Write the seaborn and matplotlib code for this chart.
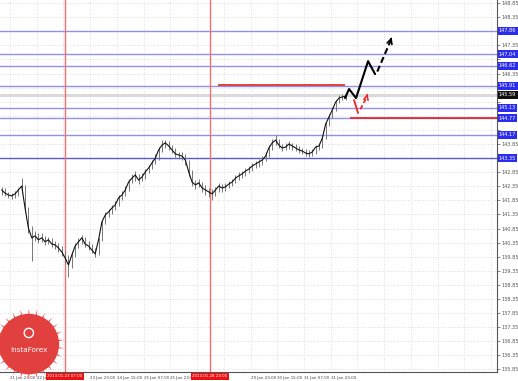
import matplotlib
matplotlib.use("Agg")
import matplotlib.pyplot as plt
import matplotlib.transforms as mtransforms
import seaborn as sns
import numpy as np
import pandas as pd

# ---------------- data ----------------
bar_hours = [2 * i + 1 for i in range(104)]
closes = [142.22, 142.11, 142.04, 142.01, 142.08, 142.22, 142.36, 141.58, 140.87, 140.52,
          140.59, 140.45, 140.52, 140.38, 140.45, 140.30, 140.27, 140.16, 140.02, 139.81,
          139.56, 139.91, 140.23, 140.38, 140.52, 140.30, 140.23, 140.09, 139.95, 140.45,
          141.08, 141.33, 141.44, 141.58, 141.69, 141.94, 142.04, 142.22, 142.50, 142.64,
          142.75, 142.57, 142.68, 142.86, 143.00, 143.18, 143.35, 143.64, 143.81, 143.89,
          143.78, 143.64, 143.50, 143.46, 143.42, 143.28, 142.86, 142.50, 142.40, 142.47,
          142.29, 142.22, 142.15, 142.08, 142.22, 142.36, 142.29, 142.33, 142.43, 142.50,
          142.64, 142.72, 142.79, 142.89, 142.96, 143.07, 143.14, 143.21, 143.28, 143.42,
          143.71, 143.89, 143.99, 143.81, 143.71, 143.74, 143.85, 143.78, 143.71, 143.64,
          143.60, 143.53, 143.50, 143.57, 143.74, 143.78, 144.06, 144.56, 144.81, 145.06,
          145.34, 145.48, 145.52, 145.55]
highs = [142.34, 142.28, 142.16, 142.12, 142.20, 142.30, 142.64, 142.40, 141.62, 140.95,
         140.75, 140.68, 140.70, 140.58, 140.55, 140.50, 140.40, 140.34, 140.22, 140.05,
         139.90, 140.02, 140.35, 140.50, 140.62, 140.55, 140.40, 140.30, 140.15, 140.52,
         141.15, 141.45, 141.55, 141.70, 141.82, 142.05, 142.18, 142.35, 142.62, 142.78,
         142.88, 142.78, 142.82, 142.98, 143.12, 143.30, 143.48, 143.75, 143.99, 143.98,
         143.95, 143.82, 143.70, 143.58, 143.55, 143.48, 143.30, 142.92, 142.58, 142.60,
         142.50, 142.38, 142.30, 142.25, 142.32, 142.45, 142.42, 142.45, 142.55, 142.62,
         142.75, 142.85, 142.90, 143.00, 143.08, 143.18, 143.26, 143.32, 143.42, 143.55,
         143.82, 144.02, 144.17, 144.02, 143.85, 143.88, 143.95, 143.90, 143.84, 143.78,
         143.72, 143.66, 143.62, 143.68, 143.80, 143.88, 144.15, 144.62, 144.90, 145.15,
         145.42, 145.60, 145.64, 145.66]
lows = [142.05, 142.02, 141.92, 141.90, 141.95, 142.02, 142.10, 141.45, 140.70, 139.70,
        140.40, 140.32, 140.36, 140.25, 140.30, 140.18, 140.12, 140.02, 139.88, 139.60,
        139.12, 139.45, 139.85, 140.15, 140.30, 140.18, 140.10, 139.98, 139.85, 139.92,
        140.40, 141.00, 141.25, 141.38, 141.50, 141.65, 141.85, 142.00, 142.18, 142.45,
        142.55, 142.42, 142.52, 142.62, 142.82, 142.98, 143.15, 143.30, 143.58, 143.70,
        143.62, 143.52, 143.38, 143.32, 143.30, 143.10, 142.70, 142.35, 142.25, 142.32,
        142.15, 142.05, 141.98, 141.87, 142.00, 142.15, 142.15, 142.18, 142.28, 142.35,
        142.45, 142.58, 142.65, 142.72, 142.82, 142.90, 143.00, 143.05, 143.12, 143.25,
        143.38, 143.65, 143.80, 143.70, 143.60, 143.62, 143.68, 143.65, 143.60, 143.52,
        143.48, 143.42, 143.40, 143.44, 143.50, 143.62, 143.72, 144.02, 144.50, 144.78,
        145.02, 145.30, 145.40, 145.42]

# support / resistance levels (blue) and their labels
level_prices = [147.86, 147.04, 146.62, 145.91, 145.13, 144.77, 144.17, 143.35]
current_price = 145.59

# red drawn lines
red_upper = {"start": 130.5, "end": 206.6, "price": 145.95}
red_lower = {"start": 209.6, "end": 300.0, "price": 144.79}
red_vlines = [38.9, 125.7]
red_vline_labels = ["2013.01.23 07:00", "2013.01.28 23:00"]

# projections
black_solid_h = [206.6, 209.0, 213.2, 220.4, 224.6]
black_solid_p = [145.48, 145.80, 145.48, 146.79, 146.33]
black_dash_h = [225.9, 234.1]
black_dash_p = [146.42, 147.54]
red_solid_h = [212.0, 214.4]
red_solid_p = [145.41, 144.95]
red_dash_h = [215.8, 219.8]
red_dash_p = [145.08, 145.55]

# axis ticks
price_ticks = [135.85 + 0.5 * k for k in range(27)]
time_tick_hours = [6, 22, 38, 54, 70, 86, 102, 118, 134, 150, 166, 182, 198, 214, 230, 246, 262, 278, 294]
time_tick_labels = ["21 Jan 23:00", "22 Jan 15:00", "23 Jan 07:00", "23 Jan 23:00",
                    "24 Jan 15:00", "25 Jan 07:00", "25 Jan 23:00", "28 Jan 15:00", "29 Jan 07:00",
                    "29 Jan 23:00", "30 Jan 15:00", "31 Jan 07:00", "31 Jan 23:00",
                    "", "", "", "", "", ""]

XLIM = (0, 297.6)
YLIM = (135.76, 148.96)

# ---------------- figure ----------------
sns.set_style("white")
plt.rcParams['font.family'] = ['DejaVu Sans']

W, H = 518, 381
fig = plt.figure(figsize=(W / 100, H / 100), dpi=100)
ax = fig.add_axes([0, 9 / H, 497 / W, 372 / H])
ax.set_facecolor("white")

# grid
for t in time_tick_hours:
    if XLIM[0] < t < XLIM[1]:
        ax.axvline(t, color="#d4d4d4", lw=0.6, ls=(0, (1, 2)), zorder=0)
for p in price_ticks:
    ax.axhline(p, color="#d4d4d4", lw=0.6, ls=(0, (1, 2)), zorder=0)

# current price band
ax.axhline(current_price, color="#dadada", lw=2.2, zorder=1)

# blue levels
for i, lp in enumerate(level_prices):
    col = "#5a5ad8" if i == len(level_prices) - 1 else "#9090e8"
    ax.axhline(lp, color=col, lw=1.0, zorder=2)

# red vertical lines
for v in red_vlines:
    ax.axvline(v, color="#f07070", lw=1.0, zorder=2)

# red horizontal segments
ax.hlines(red_upper["price"], red_upper["start"], red_upper["end"], color="#e02020", lw=1.2, zorder=3)
ax.hlines(red_lower["price"], red_lower["start"], red_lower["end"], color="#e02020", lw=1.2, zorder=3)

# price bars
df = pd.DataFrame({"hour": bar_hours, "close": closes, "high": highs, "low": lows})
ax.vlines(df["hour"], df["low"], df["high"], color="#777777", lw=0.7, zorder=4)
sns.lineplot(data=df, x="hour", y="close", color="#111111", lw=0.8, ax=ax, zorder=5)

# projections
sns.lineplot(x=black_solid_h, y=black_solid_p, color="black", lw=1.5, ax=ax, zorder=6, sort=False)
sns.lineplot(x=black_dash_h, y=black_dash_p, color="black", lw=1.5, ax=ax, zorder=6,
             linestyle=(0, (3, 1.6)))
ax.annotate("", xy=(black_dash_h[-1] + 0.4, black_dash_p[-1] + 0.1),
            xytext=(black_dash_h[-1] - 0.4, black_dash_p[-1] - 0.05),
            arrowprops=dict(arrowstyle="->", color="black", lw=1.2, mutation_scale=9), zorder=6)
sns.lineplot(x=red_solid_h, y=red_solid_p, color="#ee2222", lw=1.3, ax=ax, zorder=6)
sns.lineplot(x=red_dash_h, y=red_dash_p, color="#ee2222", lw=1.3, ax=ax, zorder=6,
             linestyle=(0, (2.5, 1.5)))
ax.annotate("", xy=(red_dash_h[-1] + 0.3, red_dash_p[-1] + 0.08),
            xytext=(red_dash_h[-1] - 0.3, red_dash_p[-1] - 0.05),
            arrowprops=dict(arrowstyle="->", color="#ee2222", lw=1.1, mutation_scale=8), zorder=6)

# axes styling
ax.set_xlim(*XLIM)
ax.set_ylim(*YLIM)
ax.set_xlabel("")
ax.set_ylabel("")
for s in ["top", "left"]:
    ax.spines[s].set_visible(False)
ax.spines["right"].set_color("#555555")
ax.spines["bottom"].set_color("#555555")
ax.spines["right"].set_linewidth(0.8)
ax.spines["bottom"].set_linewidth(0.8)

# hide price tick labels covered by level boxes (as in the terminal)
covered = level_prices + [current_price]
ytick_text = []
for p in price_ticks:
    if any(abs(p - c) < 0.24 for c in covered):
        ytick_text.append("")
    else:
        ytick_text.append(f"{p:.2f}")
ax.yaxis.tick_right()
ax.set_yticks(price_ticks)
ax.set_yticklabels(ytick_text, fontsize=3.6, color="#555555")
ax.tick_params(axis="y", length=2, width=0.5, pad=1.5, colors="#555555")

# hide time labels covered by the red date boxes
xtick_text = []
for t, lab in zip(time_tick_hours, time_tick_labels):
    if any(abs(t - v) < 9 for v in red_vlines):
        xtick_text.append("")
    else:
        xtick_text.append(lab)
ax.set_xticks(time_tick_hours)
ax.set_xticklabels(xtick_text, fontsize=2.9, color="#444444", ha="left")
ax.tick_params(axis="x", length=2, width=0.5, pad=1.2, colors="#444444")
ax.set_xlim(*XLIM)

# level labels on price axis
trans = mtransforms.blended_transform_factory(ax.transAxes, ax.transData)
for lp in level_prices:
    ax.text(1.004, lp, f"{lp:.2f}", transform=trans, fontsize=3.6, color="white",
            va="center", ha="left", clip_on=False, zorder=10,
            bbox=dict(boxstyle="square,pad=0.25", fc="#2c2cf0", ec="none"))
ax.text(1.004, current_price, f"{current_price:.2f}", transform=trans, fontsize=3.6, color="white",
        va="center", ha="left", clip_on=False, zorder=10,
        bbox=dict(boxstyle="square,pad=0.25", fc="#111111", ec="none"))

# red vertical line date labels
transx = mtransforms.blended_transform_factory(ax.transData, ax.transAxes)
for v, lab in zip(red_vlines, red_vline_labels):
    ax.text(v, -0.012, lab, transform=transx, fontsize=2.9, color="white", ha="center", va="center",
            clip_on=False, zorder=10, bbox=dict(boxstyle="square,pad=0.3", fc="#ee1111", ec="none"))

# InstaForex badge
ax.scatter([0.058], [0.075], s=2600, marker=(26, 1, 0), color="#e85050", transform=ax.transAxes,
           zorder=8, clip_on=False, edgecolors="none")
ax.scatter([0.058], [0.075], s=1900, marker="o", color="#e23f3f", transform=ax.transAxes,
           zorder=8, clip_on=False, edgecolors="none")
ax.scatter([0.058], [0.105], s=45, marker="o", facecolors="none", edgecolors="white",
           linewidths=1.0, transform=ax.transAxes, zorder=9)
ax.text(0.058, 0.058, "InstaForex", transform=ax.transAxes, fontsize=5.2, color="white",
        ha="center", va="center", zorder=9)

fig.savefig("out.png", dpi=100, facecolor="white")
